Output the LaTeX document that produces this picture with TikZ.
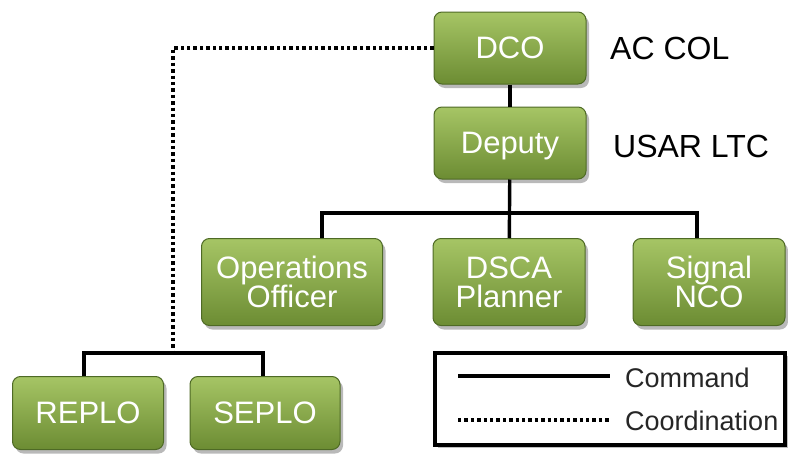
\documentclass[tikz,border=0pt]{standalone}
\usepackage{fontspec}
\setmainfont{Liberation Sans}
\usetikzlibrary{shadows}
\definecolor{boxtop}{HTML}{A6C565}
\definecolor{boxbot}{HTML}{6C8C33}
\definecolor{boxedge}{HTML}{4E6A25}

\begin{document}
\begin{tikzpicture}[x=1pt, y=-1pt,
    post/.style={rectangle, rounded corners=8pt, draw=boxedge, line width=1pt,
      top color=boxtop, bottom color=boxbot, text=white, align=center,
      inner sep=0pt, minimum width=152pt, minimum height=72pt,
      font=\fontsize{31}{29}\selectfont,
      drop shadow={shadow xshift=3pt, shadow yshift=-4pt, opacity=0.55}},
    rank/.style={anchor=west, inner sep=0pt, font=\fontsize{32}{36}\selectfont},
    keytxt/.style={anchor=west, inner sep=0pt, text=black!85, font=\fontsize{27}{30}\selectfont},
    cmdline/.style={line width=3.4pt},
    coordline/.style={line width=3.4pt, dash pattern=on 3.4pt off 3pt}]
    \useasboundingbox (0,0) rectangle (788,453);

    % top of the chart
    \node[post] (dco) at (510,48) {DCO};
    \node[post, text depth=0pt] (dep) at (510,143) {Deputy};
    \node[rank] (dcorank) at (610,48) {AC COL};
    \node[rank] (deprank) at (613,146) {USAR LTC};

    % staff
    \node[post, minimum width=181pt, minimum height=87pt] (ops) at (292,282) {Operations\\Officer};
    \node[post, minimum height=87pt] (dsca) at (509,282) {DSCA\\Planner};
    \node[post, minimum height=87pt] (sig) at (709,282) {Signal\\NCO};

    % liaison officers
    \node[post, minimum width=151pt, minimum height=73pt] (replo) at (88,413) {REPLO};
    \node[post, minimum width=150pt, minimum height=73pt] (seplo) at (265,413) {SEPLO};
    \coordinate (lo) at (173,353);

    \draw[cmdline] (dco) -- (dep);
    \draw[cmdline] (dep) -- (dsca);
    \draw[cmdline] ([xshift=30pt]ops.north) -- ++(0,-25) -| ([xshift=-12pt]sig.north);
    \draw[coordline] (dco.west) -| (lo);
    \draw[cmdline] ([xshift=-4pt]replo.north) |- (lo) -| ([xshift=-2pt]seplo.north);

    % key
    \node[draw, line width=3.5pt, fill=white, minimum width=350pt, minimum height=92pt,
      drop shadow={shadow xshift=3pt, shadow yshift=-3pt, opacity=0.5}] (key) at (610,399) {};
    \coordinate (cmdA) at (458,376);
    \coordinate (cmdB) at (610,376);
    \coordinate (crdA) at (458,420);
    \coordinate (crdB) at (610,420);
    \draw[cmdline] (cmdA) -- (cmdB);
    \draw[coordline] (crdA) -- (crdB);
    \node[keytxt] (cmdtxt) at (625,378) {Command};
    \node[keytxt] (crdtxt) at (625,421) {Coordination};
  \end{tikzpicture}
\end{document}
